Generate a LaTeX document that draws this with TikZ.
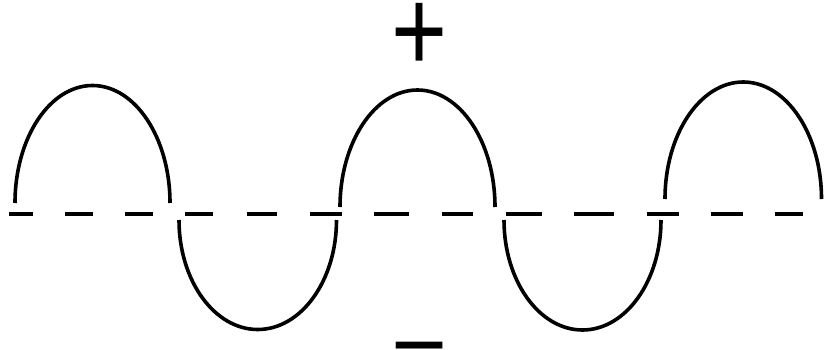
\documentclass[tikz,border=0pt]{standalone}
\usepackage{fontspec}
\newfontfamily\signfont{Liberation Sans}
\usetikzlibrary{calc}

\begin{document}
\begin{tikzpicture}[x=1pt, y=1pt,
    wave/.style={line width=3.6pt},
    zero line/.style={line width=3.8pt},
    sign/.style={inner sep=0pt, anchor=base, font=\signfont\fontsize{96}{96}\selectfont}]

    \useasboundingbox (0,0) rectangle (832,349);

    % zero line, drawn dash by dash
    \foreach \a/\b in {9/33, 65/93, 125/153, 185/213, 247/277, 310/342, 374/409,
                       442/473, 506/542, 574/614, 647/679, 711/743, 775/803}
        \draw[zero line] (\a,135) -- (\b,135);

    \coordinate (H1) at (15,146);
    \coordinate (T1) at (179,129);
    \coordinate (H2) at (340,142);
    \coordinate (T2) at (504,129);
    \coordinate (H3) at (665,150);

    % crests and troughs
    \draw[wave] (H1) arc[start angle=180, end angle=0, x radius=77.5, y radius=117.5];
    \draw[wave] (T1) arc[start angle=180, end angle=360, x radius=78.75, y radius=109.5];
    \draw[wave] (H2) arc[start angle=180, end angle=0, x radius=77.5, y radius=117];
    \draw[wave] (T2) arc[start angle=180, end angle=360, x radius=78.5, y radius=110];
    \draw[wave] (H3) arc[start angle=180, end angle=0, x radius=78.25, y radius=117];

    \node[sign, yscale=1.23] (plus) at (420,278) {+};
    \node[sign] (minus) at (420,-28) {−};

\end{tikzpicture}
\end{document}
